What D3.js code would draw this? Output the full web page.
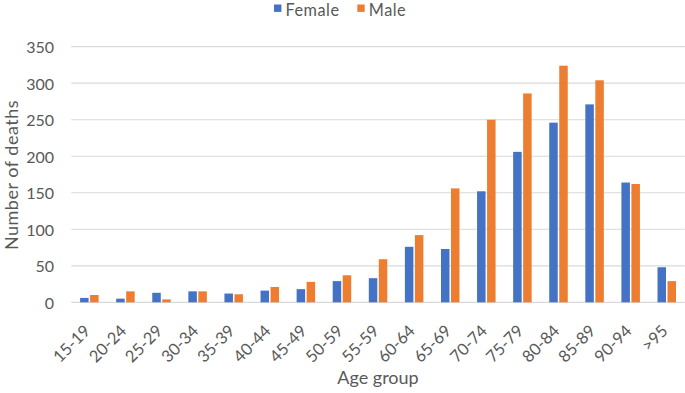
<!DOCTYPE html>
<html>
<head>
<meta charset="utf-8">
<script src="https://cdn.jsdelivr.net/npm/d3@7/dist/d3.min.js"></script>
<style>
  html, body { margin: 0; padding: 0; background: #fff; }
  svg { display: block; }
  text { font-family: Lato, sans-serif; fill: #595959; }
</style>
</head>
<body>
<svg id="chart" width="685" height="393"></svg>
<script>
const categories = ["15-19","20-24","25-29","30-34","35-39","40-44","45-49","50-59","55-59","60-64","65-69","70-74","75-79","80-84","85-89","90-94",">95"];
const female = [6, 5, 13, 15, 12, 16, 18, 29, 33, 76, 73, 152, 206, 246, 271, 164, 48];
const male   = [10, 15, 4, 15, 11, 21, 28, 37, 59, 92, 156, 250, 286, 324, 304, 162, 29];
const seriesNames = ["Female", "Male"];
const seriesColors = ["#4472C4", "#ED7D31"];
const yTicks = [0, 50, 100, 150, 200, 250, 300, 350];

const svg = d3.select("#chart");
const mLeft = 71.3, mRight = 684.8, mTop = 46.7, mBottom = 302.3;

const x0 = d3.scaleBand().domain(categories).range([mLeft, mRight]).paddingInner(0.4875).paddingOuter(0.24375);
const x1 = d3.scaleBand().domain(seriesNames).range([0, 18.5]).paddingInner(0.15);
const y = d3.scaleLinear().domain([0, 350]).range([mBottom, mTop]);

// gridlines
svg.append("g").selectAll("line").data(yTicks).join("line")
  .attr("x1", mLeft).attr("x2", mRight)
  .attr("y1", d => y(d)).attr("y2", d => y(d))
  .attr("stroke", "#D9D9D9").attr("stroke-width", 1.2);

// y tick labels
svg.append("g").selectAll("text").data(yTicks).join("text")
  .attr("x", 54).attr("y", d => y(d))
  .attr("text-anchor", "end").attr("dominant-baseline", "central")
  .style("font-size", "16px")
  .text(d => d);

// bars
const data = categories.map((c, i) => ({ cat: c, vals: [female[i], male[i]] }));
const groups = svg.append("g").selectAll("g").data(data).join("g")
  .attr("transform", d => `translate(${x0(d.cat) + (x0.bandwidth() - 18.5) / 2},0)`);
groups.selectAll("rect").data(d => d.vals.map((v, j) => ({ s: seriesNames[j], v, j })))
  .join("rect")
  .attr("x", d => x1(d.s))
  .attr("width", x1.bandwidth())
  .attr("y", d => y(d.v))
  .attr("height", d => y(0) - y(d.v))
  .attr("fill", d => seriesColors[d.j]);

// x labels
svg.append("g").selectAll("text").data(categories).join("text")
  .attr("transform", d => `translate(${x0(d) + x0.bandwidth() / 2 + 2},332) rotate(-45)`)
  .attr("text-anchor", "end")
  .style("font-size", "16.5px")
  .text(d => d);

// axis titles
svg.append("text").attr("x", 378).attr("y", 384).attr("text-anchor", "middle")
  .style("font-size", "18px").text("Age group");
svg.append("text").attr("transform", "translate(18,175) rotate(-90)")
  .attr("text-anchor", "middle")
  .style("font-size", "18px").style("letter-spacing", "0.5px").text("Number of deaths");

// legend
const legend = svg.append("g");
const legendItems = [{ name: "Female", x: 274 }, { name: "Male", x: 357.3 }];
legendItems.forEach((it, i) => {
  legend.append("rect").attr("x", it.x).attr("y", 4.5).attr("width", 7.4).attr("height", 7.4)
    .attr("fill", seriesColors[i]);
  legend.append("text").attr("x", it.x + 11.5).attr("y", 16.2)
    .style("font-size", "16.3px").style("letter-spacing", "0.5px").text(it.name);
});
</script>
</body>
</html>
